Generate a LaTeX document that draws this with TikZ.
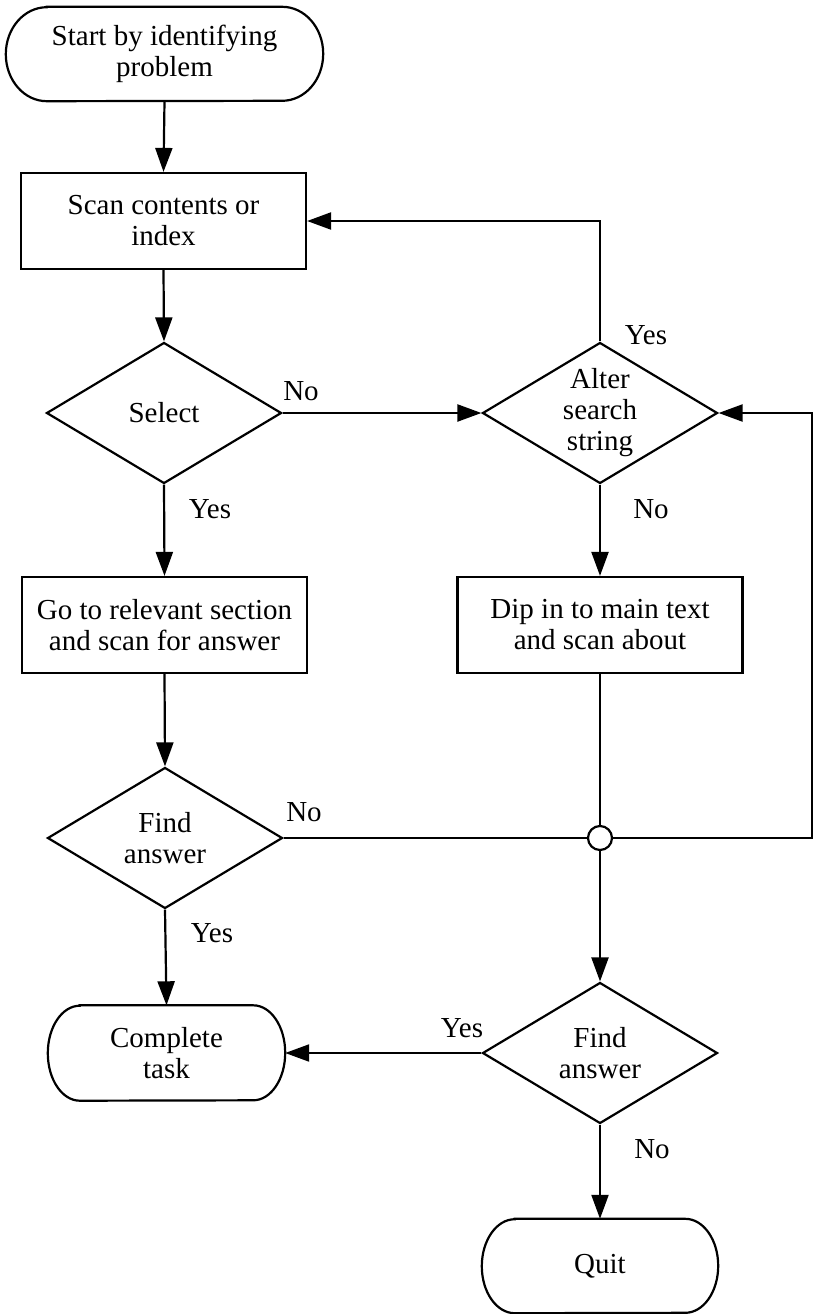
\documentclass[tikz,border=0pt]{standalone}
\usepackage{fontspec}
\setmainfont{Liberation Serif}
\usetikzlibrary{arrows.meta,shapes.geometric,calc}
\tikzset{
  txt/.style={font=\fontsize{29}{31}\selectfont, align=center, inner sep=0pt},
  procbox/.style={txt, draw, rectangle, line width=2.2pt, minimum width=285pt, minimum height=96pt},
  decision/.style={txt, draw, diamond, aspect=1.67, line width=2.2pt, minimum width=235pt, minimum height=141pt},
  termnode/.style={txt, rectangle, minimum height=94pt},
  junction/.style={draw, circle, fill=white, minimum size=24pt, inner sep=0pt, line width=2.2pt},
  flow/.style={line width=2.2pt, -{Triangle[length=24pt,width=17pt]}},
  plain/.style={line width=2.2pt},
  lbl/.style={font=\fontsize{29}{31}\selectfont, inner sep=0pt},
  outline/.style={line width=2.2pt},
}
\newcommand\termoutline[3]{%
  \draw[outline] ([xshift=#2pt]#1.north west) -- ([xshift=-#2pt]#1.north east)
    arc[start angle=90, end angle=-90, x radius=#2pt, y radius=#3pt]
    -- ([xshift=#2pt]#1.south west)
    arc[start angle=270, end angle=90, x radius=#2pt, y radius=#3pt] -- cycle;}
\begin{document}
\begin{tikzpicture}[x=1pt, y=-1pt]
  \useasboundingbox (0,0) rectangle (814,1314);
  % nodes
  \node[termnode, minimum width=317pt] (start) at (164.5,54) {Start by identifying\\problem};
  \termoutline{start}{41}{47}
  \node[procbox] (scan) at (163.5,221) {Scan contents or\\index};
  \node[decision] (select) at (164,413) {Select};
  \node[decision] (alter) at (600,413) {Alter\\search\\string};
  \node[procbox] (go) at (164.5,625) {Go to relevant section\\and scan for answer};
  \node[procbox] (dip) at (600,625) {Dip in to main text\\and scan about};
  \node[decision] (find1) at (165,838) {Find\\answer};
  \node[junction] (circ) at (600,838) {};
  \node[decision] (find2) at (600,1053) {Find\\answer};
  \node[termnode, minimum width=237pt, minimum height=95pt] (complete) at (166.5,1053) {Complete\\task};
  \termoutline{complete}{32}{47.5}
  \node[termnode, minimum width=236pt] (quit) at (600,1266) {Quit};
  \termoutline{quit}{33}{47}
  \coordinate (rloop) at (812,413);
  % connectors
  \draw[flow] (start.south) -- (scan.north);
  \draw[flow] (scan.south) -- (select.north);
  \draw[flow] (select.east) -- (alter.west);
  \draw[flow] (alter.north) -- (alter.north |- scan.east) -- (scan.east);
  \draw[flow] (select.south) -- (go.north);
  \draw[flow] (alter.south) -- (dip.north);
  \draw[flow] (go.south) -- (find1.north);
  \draw[plain] (find1.east) -- (circ.west);
  \draw[plain] (dip.south) -- (circ.north);
  \draw[flow] (circ.east) -| (rloop) -- (alter.east);
  \draw[flow] (circ.south) -- (find2.north);
  \draw[flow] (find1.south) -- (complete.north);
  \draw[flow] (find2.west) -- (complete.east);
  \draw[flow] (find2.south) -- (quit.north);
  % labels
  \node[lbl] (l1) at (301,391) {No};
  \node[lbl] (l2) at (646,335) {Yes};
  \node[lbl] (l3) at (651,509) {No};
  \node[lbl] (l4) at (210,509) {Yes};
  \node[lbl] (l5) at (304,812) {No};
  \node[lbl] (l6) at (212,933) {Yes};
  \node[lbl] (l7) at (462,1028) {Yes};
  \node[lbl] (l8) at (652,1149) {No};
\end{tikzpicture}
\end{document}
